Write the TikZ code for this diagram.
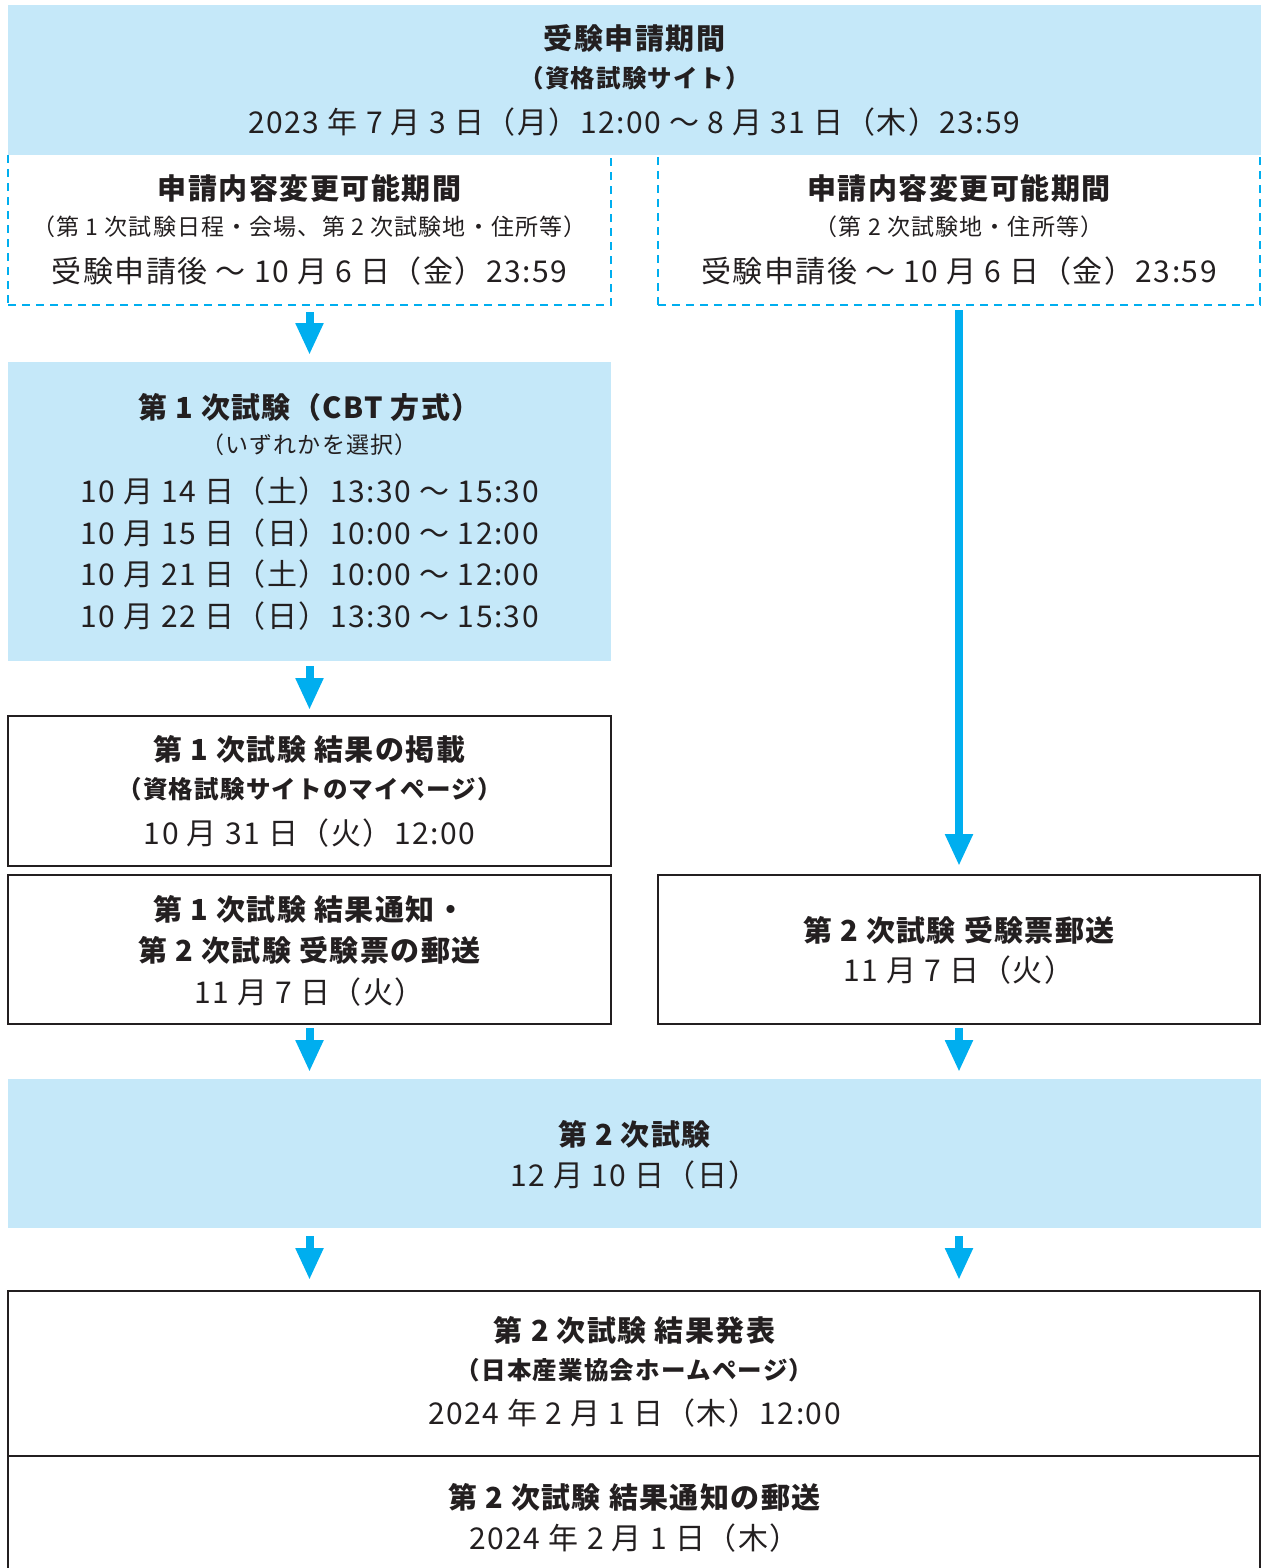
\documentclass[tikz,border=0pt]{standalone}
\usepackage{fontspec}
\setmainfont{Noto Sans CJK JP}[LetterSpace=5]
\usetikzlibrary{arrows.meta}
\definecolor{lb}{RGB}{197,232,249}
\definecolor{cy}{RGB}{0,174,239}
\definecolor{ink}{RGB}{35,31,32}
\tikzset{
  box/.style={rectangle, inner sep=0pt, outer sep=0pt, anchor=north west},
  bluebox/.style={box, fill=lb, draw=none},
  dashbox/.style={box, draw=cy, line width=2pt, dash pattern=on 8pt off 6pt},
  linebox/.style={box, draw=ink, line width=2pt},
  hb/.style={font=\fontsize{29}{34}\selectfont\bfseries, text=ink, inner sep=0pt},
  hs/.style={font=\fontsize{24.5}{30}\selectfont\bfseries, text=ink, inner sep=0pt},
  rd/.style={font=\fontsize{30}{36}\selectfont, text=ink, inner sep=0pt},
  rs/.style={font=\fontsize{23}{28}\selectfont, text=ink, inner sep=0pt},
  arr/.style={draw=cy, line width=8pt, -{Triangle[width=26pt,length=32pt]}},
}
\begin{document}
\begin{tikzpicture}[x=1pt,y=-1pt]
\useasboundingbox (0,0) rectangle (1261,1568);
% dashed boxes (drawn first so the top band covers their upper edge)
\node[dashbox, minimum width=603pt, minimum height=151pt] (d1) at (8,154) {};
\node[dashbox, minimum width=602pt, minimum height=151pt] (d2) at (658,154) {};
% top band
\node[bluebox, minimum width=1253pt, minimum height=150pt] (top) at (8,5) {};
\node[hb] (t1) at (634.5,38) {受験申請期間};
\node[hs] (t2) at (634.5,78) {（資格試験サイト）};
\node[rd] (t3) at (634.5,122) {2023 年 7 月 3 日（月）12:00 ～ 8 月 31 日（木）23:59};
% dashed box texts
\node[hb] (d1a) at (309.5,188) {申請内容変更可能期間};
\node[rs] (d1b) at (309.5,227) {（第 1 次試験日程・会場、第 2 次試験地・住所等）};
\node[rd] (d1c) at (309.5,271) {受験申請後 ～ 10 月 6 日（金）23:59};
\node[hb] (d2a) at (959,188) {申請内容変更可能期間};
\node[rs] (d2b) at (959,227) {（第 2 次試験地・住所等）};
\node[rd] (d2c) at (959,271) {受験申請後 ～ 10 月 6 日（金）23:59};
% first exam
\node[bluebox, minimum width=603pt, minimum height=299pt] (b1) at (8,362) {};
\node[hb] (b1a) at (309.5,407) {第 1 次試験（CBT 方式）};
\node[rs] (b1b) at (309.5,445) {（いずれかを選択）};
\node[rd] (b1c) at (309.5,491) {10 月 14 日（土）13:30 ～ 15:30};
\node[rd] (b1d) at (309.5,533) {10 月 15 日（日）10:00 ～ 12:00};
\node[rd] (b1e) at (309.5,574) {10 月 21 日（土）10:00 ～ 12:00};
\node[rd] (b1f) at (309.5,616) {10 月 22 日（日）13:30 ～ 15:30};
% result boxes left
\node[linebox, minimum width=603pt, minimum height=150pt] (r1a) at (8,716) {};
\node[hb] (r1a1) at (309.5,749) {第 1 次試験 結果の掲載};
\node[hs] (r1a2) at (309.5,789) {（資格試験サイトのマイページ）};
\node[rd] (r1a3) at (309.5,833) {10 月 31 日（火）12:00};
\node[linebox, minimum width=603pt, minimum height=149pt] (r1b) at (8,875) {};
\node[hb] (r1b1) at (309.5,909) {第 1 次試験 結果通知・};
\node[hb] (r1b2) at (309.5,950) {第 2 次試験 受験票の郵送};
\node[rd] (r1b3) at (309.5,992) {11 月 7 日（火）};
% right box
\node[linebox, minimum width=602pt, minimum height=149pt] (r2) at (658,875) {};
\node[hb] (r2a) at (959,930) {第 2 次試験 受験票郵送};
\node[rd] (r2b) at (959,970) {11 月 7 日（火）};
% second exam
\node[bluebox, minimum width=1253pt, minimum height=149pt] (s2) at (8,1079) {};
\node[hb] (s2a) at (634.5,1134) {第 2 次試験};
\node[rd] (s2b) at (634.5,1175) {12 月 10 日（日）};
% final boxes
\node[linebox, minimum width=1252pt, minimum height=165pt] (f1) at (8,1291) {};
\node[hb] (f1a) at (634.5,1330) {第 2 次試験 結果発表};
\node[hs] (f1b) at (634.5,1370) {（日本産業協会ホームページ）};
\node[rd] (f1c) at (634.5,1413) {2024 年 2 月 1 日（木）12:00};
\coordinate (f2bl) at (8,1580);
\coordinate (f2br) at (1260,1580);
\draw[draw=ink, line width=2pt] (f2bl) -- (f1.south west) -- (f1.south east) -- (f2br);
\node[hb] (f2a) at (634.5,1497) {第 2 次試験 結果通知の郵送};
\node[rd] (f2b) at (634.5,1538) {2024 年 2 月 1 日（木）};
% arrows
\draw[arr, shorten <=7pt, shorten >=7pt] (d1.south) -- (b1.north);
\draw[arr, shorten <=5pt, shorten >=9pt] (d2.south) -- (r2.north);
\draw[arr, shorten <=5pt, shorten >=6pt] (b1.south) -- (r1a.north);
\draw[arr, shorten <=4pt, shorten >=7pt] (r1b.south) -- (r1b.south |- s2.north);
\draw[arr, shorten <=4pt, shorten >=7pt] (r2.south) -- (r2.south |- s2.north);
\draw[arr, shorten <=8pt, shorten >=11pt] (s2.south -| r1b.south) -- (f1.north -| r1b.south);
\draw[arr, shorten <=8pt, shorten >=11pt] (s2.south -| r2.south) -- (f1.north -| r2.south);
\end{tikzpicture}
\end{document}
